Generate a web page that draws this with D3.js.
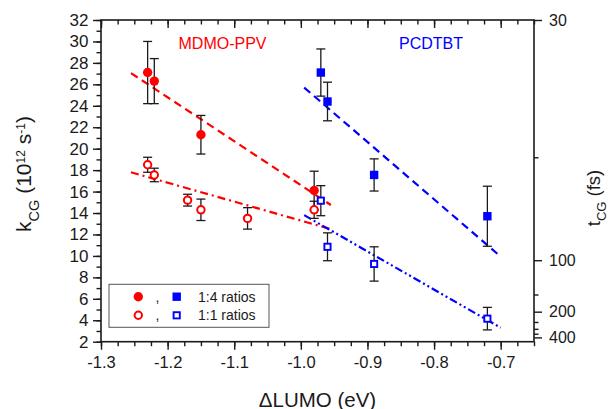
<!DOCTYPE html>
<html>
<head>
<meta charset="utf-8">
<script src="https://cdn.jsdelivr.net/npm/d3@7"></script>
<style>
  body { margin: 0; background: #fff; }
  svg text { font-family: "Liberation Sans", Arial, sans-serif; }
</style>
</head>
<body>
<div id="chart"></div>
<script>
// Datos (kCG en 10^12 s^-1)
const mdmoX14 = [-1.23, -1.22, -1.15, -0.98];
const mdmoK14 = [27.1, 26.3, 21.3, 16.1];
const mdmoE14 = [2.9, 2.1, 1.8, 1.8];

const mdmoX11 = [-1.23, -1.22, -1.17, -1.15, -1.08, -0.98];
const mdmoK11 = [18.5, 17.55, 15.2, 14.3, 13.5, 14.3];
const mdmoE11 = [0.7, 0.63, 0.55, 1.0, 1.0, 0.8];

const pcdX14 = [-0.97, -0.96, -0.89, -0.72];
const pcdK14 = [27.1, 24.4, 17.55, 13.7];
const pcdE14 = [2.2, 1.8, 1.5, 2.8];

const pcdX11 = [-0.97, -0.96, -0.89, -0.72];
const pcdK11 = [15.15, 10.85, 9.25, 4.15];
const pcdE11 = [1.4, 1.3, 1.6, 1.05];

// Rectas de ajuste (extremos)
const fitMdmo14 = { x: [-1.255, -0.955], k: [27.05, 14.75] };
const fitMdmo11 = { x: [-1.255, -0.955], k: [17.8, 12.5] };
const fitPcd14  = { x: [-0.995, -0.705], k: [25.7, 10.2] };
const fitPcd11  = { x: [-0.995, -0.70],  k: [13.8, 3.3] };

// Ejes
const xMajor = [-1.3, -1.2, -1.1, -1.0, -0.9, -0.8, -0.7];
const yMajor = d3.range(2, 33, 2);
const tMajor = [30, 100, 200, 400];
const tMinor = [50, 150, 250, 300, 350];
const tFactor = 960; // kCG = tFactor / tCG

const width = 613, height = 409;
const x = d3.scaleLinear().domain([-1.3, -0.65]).range([101, 534]);
const y = d3.scaleLinear().domain([2, 32]).range([341.7, 20]);

const svg = d3.select('#chart').append('svg')
  .attr('width', width).attr('height', height);

const RED = '#ff0000', BLUE = '#0000ff', INK = '#1a1a1a';

// Ticks
const fmtX = v => v.toFixed(1);
const styleAxis = g => {
  g.select('.domain').remove();
  g.selectAll('line').attr('stroke', INK).attr('stroke-width', 1.4);
  g.selectAll('text').attr('fill', INK).attr('font-size', 16.5);
};

const xMinor = d3.range(-1.3, -0.649, 0.025).map(v => +v.toFixed(3));

svg.append('g').attr('transform', `translate(0,${y.range()[0]})`)
  .call(d3.axisBottom(x).tickValues(xMinor).tickSize(4.5).tickFormat(''))
  .call(styleAxis);
svg.append('g').attr('transform', `translate(0,${y.range()[0]})`)
  .call(d3.axisBottom(x).tickValues(xMajor).tickSize(8).tickPadding(7).tickFormat(fmtX))
  .call(styleAxis);

svg.append('g').attr('transform', `translate(0,${y.range()[1]})`)
  .call(d3.axisTop(x).tickValues(xMinor).tickSize(-4.5).tickFormat(''))
  .call(styleAxis);
svg.append('g').attr('transform', `translate(0,${y.range()[1]})`)
  .call(d3.axisTop(x).tickValues(xMajor).tickSize(-8).tickFormat(''))
  .call(styleAxis);

svg.append('g').attr('transform', `translate(${x.range()[0]},0)`)
  .call(d3.axisLeft(y).tickValues(d3.range(2, 33, 1)).tickSize(4.5).tickFormat(''))
  .call(styleAxis);
svg.append('g').attr('transform', `translate(${x.range()[0]},0)`)
  .call(d3.axisLeft(y).tickValues(yMajor).tickSize(8).tickPadding(4.5).tickFormat(d3.format('d')))
  .call(styleAxis)
  .call(g => g.selectAll('text').attr('font-size', 17));

svg.append('g').attr('transform', `translate(${x.range()[1]},0)`)
  .call(d3.axisRight(y).tickValues(tMinor.map(t => tFactor / t)).tickSize(4.5).tickFormat(''))
  .call(styleAxis);
svg.append('g').attr('transform', `translate(${x.range()[1]},0)`)
  .call(d3.axisRight(y).tickValues(tMajor.map(t => tFactor / t)).tickSize(8).tickPadding(7)
    .tickFormat(k => Math.round(tFactor / k)))
  .call(styleAxis)
  .call(g => g.selectAll('text').attr('font-size', 16));

// Marco
svg.append('rect')
  .attr('x', x.range()[0]).attr('y', y.range()[1])
  .attr('width', x.range()[1] - x.range()[0])
  .attr('height', y.range()[0] - y.range()[1])
  .attr('fill', 'none').attr('stroke', INK).attr('stroke-width', 1.6);

// Rectas de ajuste
const linea = (fit, color, dash) => {
  svg.append('line')
    .attr('x1', x(fit.x[0])).attr('y1', y(fit.k[0]))
    .attr('x2', x(fit.x[1])).attr('y2', y(fit.k[1]))
    .attr('stroke', color).attr('stroke-width', 2.2)
    .attr('stroke-dasharray', dash);
};
linea(fitMdmo14, RED, '8,5');
linea(fitMdmo11, RED, '8,4,2,4');
linea(fitPcd14, BLUE, '8,5');
linea(fitPcd11, BLUE, '8,3,2,3,2,3');

// Barras de error
const barras = (xs, ks, es) => {
  const g = svg.append('g').attr('stroke', INK).attr('stroke-width', 1.3);
  xs.forEach((v, i) => {
    const cx = x(v), y1 = y(ks[i] + es[i]), y2 = y(ks[i] - es[i]);
    g.append('line').attr('x1', cx).attr('x2', cx).attr('y1', y1).attr('y2', y2);
    g.append('line').attr('x1', cx - 4.5).attr('x2', cx + 4.5).attr('y1', y1).attr('y2', y1);
    g.append('line').attr('x1', cx - 4.5).attr('x2', cx + 4.5).attr('y1', y2).attr('y2', y2);
  });
};
barras(mdmoX14, mdmoK14, mdmoE14);
barras(mdmoX11, mdmoK11, mdmoE11);
barras(pcdX14, pcdK14, pcdE14);
barras(pcdX11, pcdK11, pcdE11);

// Marcadores
const circulo = (g, cx, cy, lleno) => g.append('circle')
  .attr('cx', cx).attr('cy', cy).attr('r', lleno ? 4.7 : 3.7)
  .attr('fill', lleno ? RED : '#fff')
  .attr('stroke', lleno ? 'none' : RED).attr('stroke-width', 2);
const cuadro = (g, cx, cy, lleno) => g.append('rect')
  .attr('x', cx - (lleno ? 4.2 : 3.1)).attr('y', cy - (lleno ? 4.2 : 3.1))
  .attr('width', lleno ? 8.4 : 6.2).attr('height', lleno ? 8.4 : 6.2)
  .attr('fill', lleno ? BLUE : '#fff')
  .attr('stroke', lleno ? 'none' : BLUE).attr('stroke-width', 1.9);

const gm = svg.append('g');
mdmoX14.forEach((v, i) => circulo(gm, x(v), y(mdmoK14[i]), true));
mdmoX11.forEach((v, i) => circulo(gm, x(v), y(mdmoK11[i]), false));
pcdX14.forEach((v, i) => cuadro(gm, x(v), y(pcdK14[i]), true));
pcdX11.forEach((v, i) => cuadro(gm, x(v), y(pcdK11[i]), false));

// Rótulos de polímero
svg.append('text').attr('x', 222.5).attr('y', 49).attr('text-anchor', 'middle')
  .attr('font-size', 16).attr('fill', RED).text('MDMO-PPV');
svg.append('text').attr('x', 431).attr('y', 49).attr('text-anchor', 'middle')
  .attr('font-size', 16).attr('fill', BLUE).text('PCDTBT');

// Leyenda
const leg = svg.append('g');
leg.append('rect').attr('x', 109).attr('y', 284.3).attr('width', 160).attr('height', 43)
  .attr('fill', '#fff').attr('stroke', '#555').attr('stroke-width', 1);
[[296.7, true, '1:4 ratios'], [315.3, false, '1:1 ratios']].forEach(([ly, lleno, txt]) => {
  circulo(leg, 138.3, ly, lleno);
  leg.append('text').attr('x', 157.5).attr('y', ly + 5).attr('text-anchor', 'middle')
    .attr('font-size', 14).attr('fill', INK).text(',');
  cuadro(leg, 176.7, ly, lleno);
  leg.append('text').attr('x', 198).attr('y', ly + 5)
    .attr('font-size', 14).attr('fill', INK).text(txt);
});

// Títulos de ejes
svg.append('text').attr('x', 317.5).attr('y', 406.5).attr('text-anchor', 'middle')
  .attr('font-size', 20.5).attr('fill', INK).text('ΔLUMO (eV)');

const ty = svg.append('text').attr('transform', 'translate(31,174) rotate(-90)')
  .attr('text-anchor', 'middle').attr('font-size', 21).attr('fill', INK);
ty.append('tspan').text('k');
ty.append('tspan').attr('font-size', 14.5).attr('dy', 8).text('CG');
ty.append('tspan').attr('dy', -8).text(' (10');
ty.append('tspan').attr('font-size', 12).attr('dy', -6).text('12');
ty.append('tspan').attr('dy', 6).text(' s');
ty.append('tspan').attr('font-size', 12).attr('dy', -6).text('-1');
ty.append('tspan').attr('dy', 6).text(')');

const tr = svg.append('text').attr('transform', 'translate(600,198) rotate(-90)')
  .attr('text-anchor', 'middle').attr('font-size', 18.5).attr('fill', INK);
tr.append('tspan').text('t');
tr.append('tspan').attr('font-size', 13).attr('dy', 6).text('CG');
tr.append('tspan').attr('dy', -6).text(' (fs)');
</script>
</body>
</html>
